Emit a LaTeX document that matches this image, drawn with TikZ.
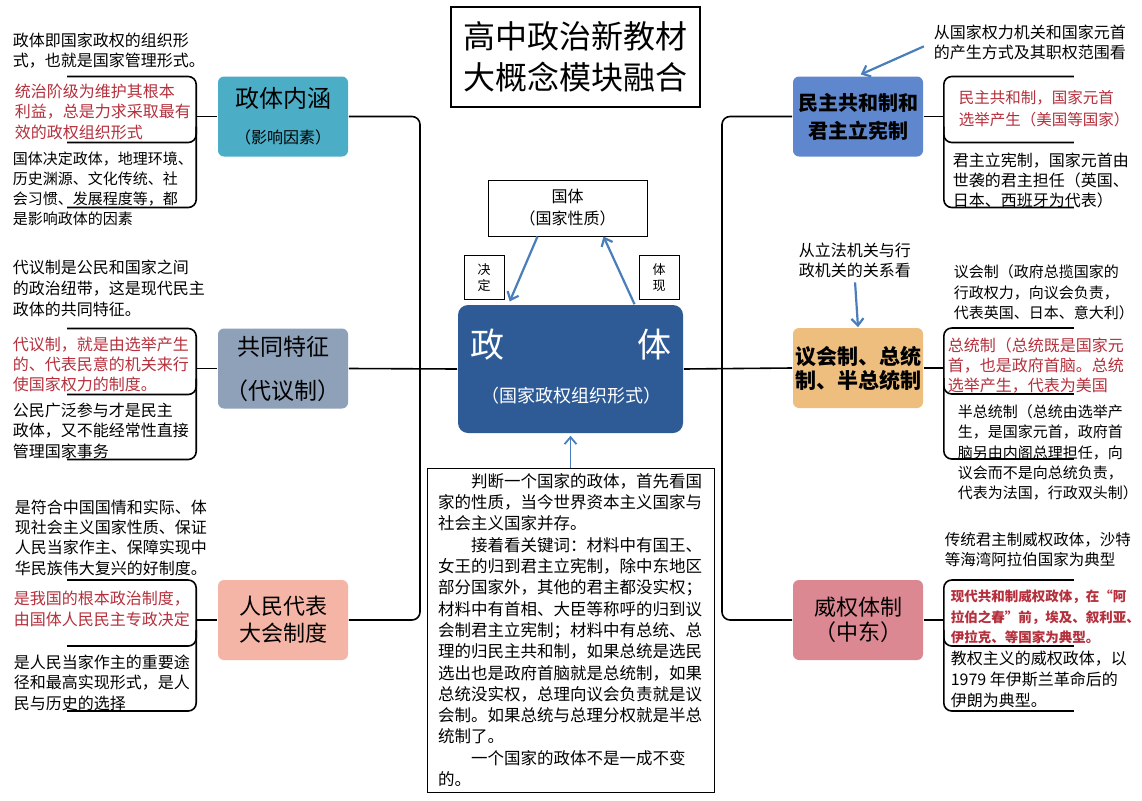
\documentclass[tikz,border=0pt]{standalone}
\usepackage{fontspec}
\setmainfont{Noto Sans CJK SC}
\usetikzlibrary{arrows.meta,calc}

\definecolor{cMain}{HTML}{2E5B96}
\definecolor{cNeihan}{HTML}{4BADC6}
\definecolor{cTezheng}{HTML}{8EA1B9}
\definecolor{cRenda}{HTML}{F5B5A6}
\definecolor{cMinzhu}{HTML}{5F87CD}
\definecolor{cYihui}{HTML}{EDBE7D}
\definecolor{cWeiquan}{HTML}{DC8892}
\definecolor{cArrow}{HTML}{4A7EBB}
\definecolor{cRed}{HTML}{B5303C}

\newcommand{\setfs}[2]{\fontsize{#1}{#2}\selectfont}

\tikzset{
  topic/.style={rounded corners=6pt, minimum width=130pt, minimum height=80pt, align=center, inner sep=2pt},
  txt/.style={anchor=north west, inner sep=0pt, align=left},
  redtxt/.style={txt, text=cRed},
  arr/.style={draw=cArrow, line width=2.2pt, -{Straight Barb[length=7pt,width=12pt]}},
  tagbox/.style={draw, line width=0.8pt, minimum width=40pt, minimum height=44pt, align=center, inner sep=1pt, font=\setfs{13}{16}},
}

\begin{document}
\begin{tikzpicture}[x=1pt, y=-1pt, line width=1.6pt]
    \useasboundingbox[fill=white] (0,0) rectangle (1142,800);

    % Title
    \node (title) [draw, line width=1.2pt, minimum width=249pt, minimum height=100pt, align=center,
      font=\setfs{32}{41}] at (575.5,57) {高中政治新教材\\大概念模块融合};

    % Centre
    \node (zhengti) [fill=cMain, rounded corners=10pt, minimum width=225pt, minimum height=128pt] at (570.5,369) {};
    \node (zheng) at (487,345) [text=white, font=\setfs{34}{34}] {政};
    \node (ti) at (654,345) [text=white, font=\setfs{34}{34}] {体};
    \node (zhengtisub) at (571,396) [text=white, font=\setfs{18}{18}] {（国家政权组织形式）};

    \node (guoti) [draw, line width=1pt, minimum width=159pt, minimum height=56pt, align=center,
      font=\setfs{16}{22}] at (567.5,208) {国体\\（国家性质）};
    \node (jueding) [tagbox] at (484,277.5) {决\\定};
    \node (tixian) [tagbox] at (659,277.5) {体\\现};
    \draw [arr, shorten >=3pt] ([xshift=-30pt]guoti.south) -- ([xshift=-62pt]zhengti.north);
    \draw [arr] ([xshift=64pt]zhengti.north) -- ([xshift=36pt]guoti.south);

    % Judgement
    \node (judge) [draw, line width=1pt, minimum width=287pt, minimum height=324pt, text width=265pt,
      align=left, font=\setfs{16.5}{21.3}] at (570.5,630) {%
      \hspace*{2em}判断一个国家的政体，首先看国\\
      家的性质，当今世界资本主义国家与\\
      社会主义国家并存。\\
      \hspace*{2em}接着看关键词：材料中有国王、\\
      女王的归到君主立宪制，除中东地区\\
      部分国家外，其他的君主都没实权；\\
      材料中有首相、大臣等称呼的归到议\\
      会制君主立宪制；材料中有总统、总\\
      理的归民主共和制，如果总统是选民\\
      选出也是政府首脑就是总统制，如果\\
      总统没实权，总理向议会负责就是议\\
      会制。如果总统与总理分权就是半总\\
      统制了。\\
      \hspace*{2em}一个国家的政体不是一成不变\\
      的。};
    \draw [arr, line width=1.8pt, shorten >=2pt] (judge.north) -- (zhengti.south);

    % Left topics
    \node (neihan) [topic, fill=cNeihan, font=\setfs{24}{36}] at (283,116.5) {政体内涵\\\setfs{16}{36}（影响因素）};
    \node (tezheng) [topic, fill=cTezheng, font=\setfs{23}{44}] at (283,368.5) {共同特征\\（代议制）};
    \node (renda) [topic, fill=cRenda, font=\setfs{22}{27}] at (283,620) {人民代表\\大会制度};

    % Right topics
    \node (minzhu) [topic, fill=cMinzhu, font=\bfseries\setfs{20}{28}] at (858,116.5) {民主共和制和\\君主立宪制};
    \node (yihui) [topic, fill=cYihui, font=\bfseries\setfs{21}{24}] at (858,368) {议会制、总统\\制、半总统制};
    \node (weiquan) [topic, fill=cWeiquan, font=\setfs{22}{25}] at (858,620) {威权体制\\（中东）};

    % Trunks
    \coordinate (tl) at (420,368);
    \coordinate (tr) at (722,368);
    \draw [rounded corners=8pt] (neihan.east) -| (tl) |- (renda.east);
    \draw [rounded corners=8pt] (minzhu.west) -| (tr) |- (weiquan.west);
    \draw (tezheng.east) -- (zhengti.west);
    \draw (zhengti.east) -- (yihui.west);

    % Brackets
    \foreach \n in {neihan,tezheng,renda} {
      \draw (\n.west) -- ++(-21,0);
      \draw [rounded corners=8pt] ($(\n.west)+(-150,-40)$) -- ++(129,0) -- ++(0,131) -- ++(-129,0);
      \draw [rounded corners=8pt] ($(\n.west)+(-21,10)$) -- ++(0,16) -- ++(-129,0);
    }
    \foreach \n in {minzhu,yihui,weiquan} {
      \draw (\n.east) -- ++(20,0);
      \draw [rounded corners=8pt] ($(\n.east)+(150,-40)$) -- ++(-130,0) -- ++(0,131) -- ++(130,0);
      \draw [rounded corners=8pt] ($(\n.east)+(20,10)$) -- ++(0,16) -- ++(130,0);
    }

    % Left notes
    \node (l1a) [txt, font=\setfs{16}{20}] at (12,32) {政体即国家政权的组织形\\式，也就是国家管理形式。};
    \node (l1b) [redtxt, font=\setfs{16}{20.5}] at (14,83) {统治阶级为维护其根本\\利益，总是力求采取最有\\效的政权组织形式};
    \node (l1c) [txt, font=\setfs{15}{20}] at (12,151) {国体决定政体，地理环境、\\历史渊源、文化传统、社\\会习惯、发展程度等，都\\是影响政体的因素};

    \node (l2a) [txt, font=\setfs{16}{21}] at (12,259) {代议制是公民和国家之间\\的政治纽带，这是现代民主\\政体的共同特征。};
    \node (l2b) [redtxt, font=\setfs{16}{20}] at (12,336) {代议制，就是由选举产生\\的、代表民意的机关来行\\使国家权力的制度。};
    \node (l2c) [txt, font=\setfs{16}{20.5}] at (12,402) {公民广泛参与才是民主\\政体，又不能经常性直接\\管理国家事务};

    \node (l3a) [txt, font=\setfs{16}{20.3}] at (14,499) {是符合中国国情和实际、体\\现社会主义国家性质、保证\\人民当家作主、保障实现中\\华民族伟大复兴的好制度。};
    \node (l3b) [redtxt, font=\setfs{16}{21}] at (13,590) {是我国的根本政治制度，\\由国体人民民主专政决定};
    \node (l3c) [txt, font=\setfs{16}{20.5}] at (13,654) {是人民当家作主的重要途\\径和最高实现形式，是人\\民与历史的选择};

    % Right notes
    \node (note1) [txt, font=\setfs{16}{20}] at (933,24) {从国家权力机关和国家元首\\的产生方式及其职权范围看};
    \draw [arr, shorten <=10pt, shorten >=3pt] (note1.west) -- (minzhu.north);
    \node (r1b) [redtxt, font=\setfs{15.5}{22}] at (958,90) {民主共和制，国家元首\\选举产生（美国等国家）};
    \node (r1c) [txt, font=\setfs{16}{20}] at (952,152) {君主立宪制，国家元首由\\世袭的君主担任（英国、\\日本、西班牙为代表）};

    \node (note2) [txt, font=\setfs{16}{20}] at (798,242) {从立法机关与行\\政机关的关系看};
    \draw [arr, shorten <=4pt] (note2.south) -- (yihui.north);
    \node (r2a) [txt, font=\setfs{15}{20.5}] at (953,264) {议会制（政府总揽国家的\\行政权力，向议会负责，\\代表英国、日本、意大利）};
    \node (r2b) [redtxt, font=\setfs{16}{20}] at (947,337) {总统制（总统既是国家元\\首，也是政府首脑。总统\\选举产生，代表为美国};
    \node (r2c) [txt, font=\setfs{15}{20.25}] at (957,404) {半总统制（总统由选举产\\生，是国家元首，政府首\\脑另由内阁总理担任，向\\议会而不是向总统负责，\\代表为法国，行政双头制）};

    \node (r3a) [txt, font=\setfs{15.5}{20}] at (944,532) {传统君主制威权政体，沙特\\等海湾阿拉伯国家为典型};
    \node (r3b) [redtxt, font=\bfseries\setfs{13.5}{20.5}] at (950,589) {现代共和制威权政体，在“阿\\拉伯之春”前，埃及、叙利亚、\\伊拉克、等国家为典型。};
    \node (r3c) [txt, font=\setfs{16}{21}] at (950,650) {教权主义的威权政体，以\\1979 年伊斯兰革命后的\\伊朗为典型。};
\end{tikzpicture}
\end{document}
